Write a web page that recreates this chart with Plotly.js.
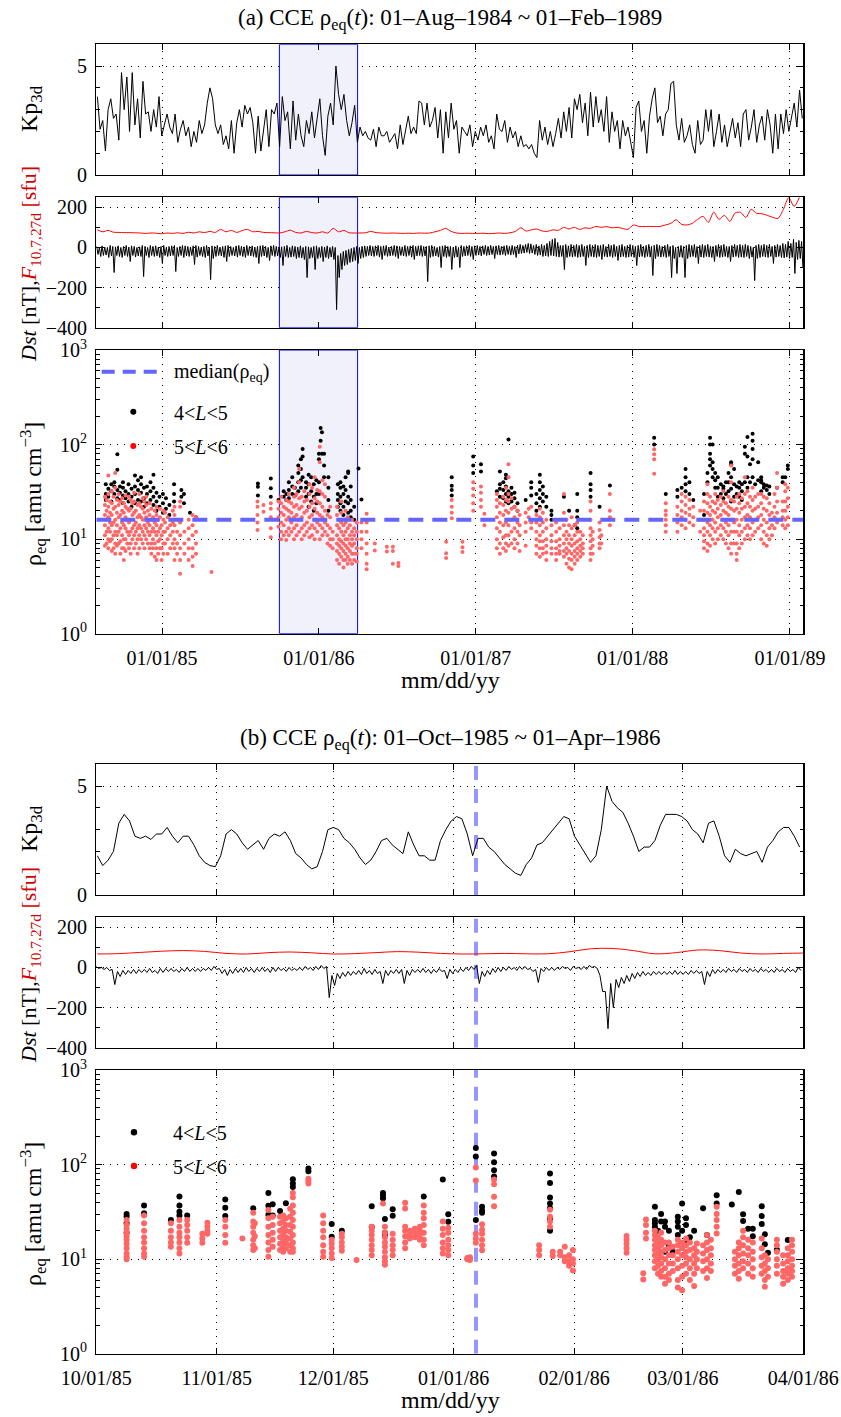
<!DOCTYPE html>
<html><head><meta charset="utf-8">
<script src="https://cdn.plot.ly/plotly-3.0.1.min.js"></script>
<style>html,body{margin:0;padding:0;background:#fff}#chart{width:841px;height:1417px}</style>
</head><body><div id="chart"></div>
<script>
// ---------------- DATA ----------------
const A_START = '1984-08-01', A_END = '1989-02-01';
const B_START = '1985-10-01', B_END = '1986-04-01';
const SHADE_START = '1985-10-01', SHADE_END = '1986-04-01';
const EVENT_TIME = '1986-01-06 18:00';
const MEDIAN_RHO = 16;
const KP_RANGE = [0, 6], DST_RANGE = [-400, 250], RHO_RANGE = [1, 1000];

// Panel (a) Kp3d and Dst (per-bin high/low), sampled every ~6.24 days from day 2.5 after A_START
const kpA_t0 = 2.5, kpA_dt = 6.236;
const kpA = [3.6,2.1,2.5,1.1,3.0,3.5,2.6,2.8,1.6,4.7,3.0,4.5,2.0,4.7,2.3,3.5,1.7,4.3,2.8,2.9,
2.0,3.0,2.2,3.6,1.8,2.3,2.8,2.2,1.9,2.8,1.5,2.1,2.5,1.8,2.2,1.3,2.0,1.5,2.5,1.9,
2.3,3.3,4.0,3.5,2.3,1.9,2.3,1.4,1.8,1.2,2.5,1.0,2.4,3.0,2.2,3.2,2.8,3.1,2.4,1.0,
2.7,1.1,2.2,3.0,1.3,3.0,2.8,3.3,1.3,3.6,2.5,2.9,1.2,3.4,1.6,2.8,1.8,1.3,2.5,1.9,
2.9,1.7,2.6,3.5,1.8,0.9,2.7,3.3,2.3,5.0,3.7,3.0,3.7,2.5,1.8,2.4,3.2,1.5,2.2,1.8,
2.0,1.7,1.6,2.1,1.3,2.2,1.8,1.8,2.0,1.5,1.7,1.9,1.2,2.3,1.4,2.0,2.7,1.9,2.2,1.9,
3.4,3.3,2.3,3.3,2.2,2.5,3.1,1.7,3.0,1.0,2.9,1.7,3.3,2.1,2.5,1.0,2.2,2.0,1.8,2.3,
1.3,2.0,1.6,2.2,1.8,2.3,1.5,1.8,1.2,2.8,2.1,2.0,2.5,1.5,2.2,1.7,2.0,1.3,1.8,1.3,
1.4,1.2,1.4,1.0,0.8,2.5,1.6,2.2,1.4,2.0,1.3,1.9,2.6,1.7,2.9,2.0,3.1,1.7,3.5,3.0,
3.7,2.4,3.3,1.8,3.8,2.2,3.6,2.4,3.0,2.0,3.6,1.5,2.9,2.0,2.5,1.2,2.5,1.8,2.2,1.5,
0.8,3.1,3.4,2.0,2.5,1.0,2.7,3.5,4.0,2.4,2.7,1.8,2.8,3.0,4.2,4.3,2.3,1.6,2.6,1.5,
1.8,2.3,1.4,1.0,2.5,1.4,1.6,3.0,2.0,3.0,1.3,2.0,2.8,1.5,2.3,1.3,2.0,2.6,1.7,2.4,
1.3,2.8,3.0,1.6,2.2,3.0,1.5,2.3,2.7,1.6,3.0,2.3,1.0,2.8,1.2,2.8,1.9,3.0,2.0,2.7,
3.3,2.2,3.9,2.6];
const dstA_hi = [5,0,8,2,0,10,5,3,8,0,5,10,2,8,5,0,3,10,5,0,
10,5,8,2,5,10,0,5,8,10,0,5,10,8,5,2,8,10,5,0,
5,10,0,8,5,10,2,5,8,10,5,0,8,10,5,3,10,5,8,2,
5,8,10,5,0,8,10,5,0,3,5,10,0,8,5,2,8,0,5,3,
0,5,8,0,5,2,8,0,5,0,-40,-30,-20,-15,-10,-5,0,5,0,5,
8,5,10,5,8,10,5,8,10,2,5,10,8,5,3,10,5,8,10,5,
8,10,5,5,8,10,5,0,5,8,10,5,5,0,8,0,10,5,8,10,
5,8,10,5,8,10,5,10,5,8,10,5,8,10,5,10,5,12,15,10,
15,20,18,10,15,8,15,10,20,30,40,45,25,10,10,15,8,15,10,15,
10,15,5,10,15,10,15,10,10,15,5,15,10,15,5,10,15,5,10,15,
10,5,10,15,5,10,15,5,10,15,10,5,10,15,5,10,0,5,10,5,
10,15,10,15,5,10,15,10,15,5,5,10,15,10,15,5,5,10,15,10,
15,10,15,10,5,0,10,15,10,15,10,15,5,10,15,10,20,15,30,20,
40,25,35,30];
const dstA_lo = [-35,-45,-40,-38,-50,-42,-125,-40,-45,-50,-40,-45,-70,-40,-48,-42,-45,-145,-40,-50,
-40,-45,-42,-50,-80,-40,-45,-42,-40,-120,-45,-40,-50,-42,-45,-40,-85,-48,-40,-45,
-50,-42,-160,-55,-45,-40,-42,-50,-70,-45,-40,-42,-48,-40,-45,-50,-40,-42,-45,-50,
-80,-45,-42,-50,-65,-40,-45,-42,-50,-90,-45,-50,-48,-45,-55,-50,-52,-60,-150,-55,
-50,-110,-55,-50,-70,-50,-55,-48,-60,-310,-150,-110,-90,-85,-75,-70,-65,-80,-55,-50,
-45,-40,-42,-45,-40,-48,-60,-40,-45,-42,-40,-45,-55,-40,-42,-45,-40,-48,-60,-42,
-40,-45,-42,-170,-50,-45,-42,-48,-100,-45,-50,-45,-110,-50,-48,-100,-45,-42,-40,-45,
-60,-40,-38,-42,-35,-40,-38,-35,-55,-35,-38,-35,-40,-35,-38,-35,-50,-32,-30,-28,
-25,-30,-28,-35,-40,-38,-45,-42,-45,-40,-42,-45,-48,-45,-110,-50,-45,-48,-45,-50,
-48,-45,-90,-50,-45,-48,-50,-45,-60,-45,-48,-45,-50,-45,-65,-48,-45,-50,-48,-45,
-50,-90,-48,-45,-50,-45,-48,-140,-55,-45,-48,-45,-50,-45,-150,-55,-130,-48,-50,-150,
-55,-48,-45,-50,-80,-48,-50,-45,-48,-50,-70,-45,-50,-48,-45,-50,-70,-48,-45,-50,
-48,-50,-45,-55,-48,-165,-55,-50,-45,-48,-50,-45,-80,-48,-45,-50,-52,-48,-55,-50,
-130,-60,-55,-100];

// Panel (a) F10.7, every ~12.47 days
const fA_t0 = 2.5, fA_dt = 12.47;
const f107A = [88,78,85,76,75,74,74,73,72,70,72,71,68,72,70,73,70,76,72,78,
74,80,75,90,78,85,75,84,90,78,80,75,74,73,72,78,86,75,72,80,
74,72,78,72,95,78,85,73,72,72,73,80,74,72,71,72,71,70,71,70,
72,71,72,78,85,95,80,72,70,71,70,70,71,69,70,72,70,73,80,98,
82,88,92,82,80,88,85,100,92,100,90,98,95,105,100,104,98,100,95,90,
112,105,104,105,104,105,112,120,138,115,112,120,140,155,125,176,140,160,130,172,
175,150,190,170,168,160,150,145,190,248,205,250];

// Panel (a) rho_eq columns (day after A_START) and values
const rhoRedA_day = [20,24,28,32,36,40,44,48,52,56,60,64,68,72,76,80,84,88,92,96,100,104,108,112,116,120,124,128,132,136,140,144,148,152,156,160,166,172,178,182,188,195,205,215,224,232,268,
375,389,406,424,430,436,442,448,454,460,466,472,478,484,490,496,502,508,514,520,526,532,538,544,550,560,565,570,575,580,585,590,595,600,606,617,629,648,676,690,703,
814,827,852,877,895,903,932,939,947,953,959,966,973,980,985,999,1006,1012,1024,1032,1039,1047,1059,1070,1078,1088,1094,1100,1106,1113,1119,1126,1132,1150,1155,1171,1175,1195,
1298,1325,1352,1362,1371,1380,1389,1405,1414,1422,1428,1434,1440,1446,1453,1459,1465,1471,1477,1484,1490,1496,1502,1509,1515,1521,1527,1533,1540,1547,1553,1560,1566,1572,1578,1584,1597,1603,1609];
const rhoRedA_val = [[8.5,11,14,18,23,28],[9,12,16,20,26],[8,10,13,17,22,30,47],[9.5,12,15,19,25],[7.5,10,14,18,24,32],[8,11,15,21,28],[7,9,12,16,22,35,50],[8.5,11,14,19,26],[9,12,17,23,30],[7,9.5,13,18,25],[8,11,15,20,27],[6,8,10,14,19,24],[7.5,10,13,17,22,29],[9,12,16,21],[8,11,15,20,28],[7,9,12,16,21,26],[10,13,18,24],[8,11,14,19,25,31],[9,12,15,20],[7,10,13,17,23],[8,11,14,18,24,30],[10,13,17,22],[9,12,16,21,27],[8,11,14,19,25],[10,13,17,23,28],[9,12,15,20],[8,11,14,18,24],[7,9,12,16,21],[8,10,13,17],[6.5,9,12,15,20],[6,8,11,14,18,22],[7,9.5,12,16],[8,10,13,17,21],[6,8,11,14],[7,9,12,16,20],[9,12,15,19],[7,10,13,17],[8,11,14],[9,12,15,20],[6,8,10,14,18,22],[7,9,12,16],[4.3,6,8,11,15,22,25],[7,9,12],[6,8,10,13,16],[5.2,6.5,8,11,14,18],[7,9,12,17],[4.5],
[12.5,15,18,22,25],[19.5,23],[10.5,13,17,21,24],[13.5,17,21,25],[10,12,15,19,24,28],[11,14,18,22],[9.8,12,16,21,26],[11,13,17,20,25,30],[12,15,19,24],[10,13,17,22,28,35],[11,14,18,23,30],[12,16,21,27,40,55],[10,13,17,22,28],[11,14,19,25,32],[12,15,20,26],[10.5,13,17,22,30,38],[11,14,18,24,35],[10,13,16,21,27,45],[12,15,19,25,33],[10,14,18,24,32,65,95],[11,13,17,22,30,42],[12,15,20,28,38],[9,11,14,18],[8.5,10,13,17,22],[8,10,12],[6,7.5,9,11,14,18,22],[5.5,7,8.5,10,13,16],[6.5,8,9.5,12,15,19,25],[5,6,7.5,9,11,14],[6,7,8.5,10,12,15,20],[5.5,6.5,8,10,13,17],[6,7.5,9,11,14],[5.5,7,8.5,10,12,16],[6,7,9,11,13],[5.8,7,8,10,12,15],[8,10,12,15],[4.8,5.5,7,9,12,15,18.5],[7.6,9],[7.4,8.3],[5.5,7.5,8.3],[5.2,5.6],
[6.3,7.1,9.4],[16.6,19,22,25.9],[7.3,8.2,9.4],[20,24,29,34,40],[22,26,31,36],[14,16,18.5],[8,10,13,17,22,26,30],[7,9,12,15,19,24],[8,10.5,14,18,23,28],[7.5,9,11,15,20,26,35],[8.5,11,14,19,25,30,45,62],[9,12,16,21,27],[8,10,13,17,22],[9,12,15,20],[7.5,11,14,18],[8.5,12,15,19],[17,21],[13,15,22],[7,8.5,10,12,15,18],[6.5,8,9.5,11,14,17,21],[7,8,9.5,12,15,19],[6,7.2,8.5,10,13,16],[7,8,9.5,11,14],[6,7,8,9.5,12,15],[7,7.5,8.5,10,13],[6.5,7.5,9,11,14,19,30],[5.5,7,8,10,12,16],[5,6.2,7.5,9,11,14],[4.8,6,7,8.5,10,13,17],[5.5,6.5,7.5,9,11,14],[6,7,8,9.5,12,15],[6.5,7.5,8.5,10,12],[7,8,9,11],[6,7,8,9.5,11,13,16,20,25],[7,8.5,10,12],[8,9,10.5,12.5,15],[9,11],[14,17,20,30],
[49,70,79,89],[12,14,16,18,20,24],[12,15,18,22],[14,17,20,25,30],[13,16,19,23,28],[15,18,21,26],[14,17,22],[12,16,20],[8,9.5,11,13,16,20,25],[7.5,9,12,15,19,24,30,38],[8.5,11,14,18,22,28],[10,13,16,20,25],[9,12,15,19,24,30],[10,13,17,21,26],[11,14,18,23,28],[10,13,16,20,25,32],[9,12,15,19,24],[8,11,14,18,22,28],[7,9,12,16,21,26,40,60],[9,12,15,20,25],[6,7,9,12,16,21,28],[8,11,14,19,24,30],[9,12,16,21,27],[10,13,17,22,30,45],[11,14,18,24,32],[10,13,17,22,28],[11,15,20,26,35],[12,16,21,28],[13,17,22,30],[10,14,18,24,30],[9,12,16,21,28],[8.5,11,15,20,27],[10,13,18,24],[11,14,19],[13,17,22,30],[15,19,25,35,50],[14,17,20,25],[13,16,20,25,32,38],[14,17,22,27,35]];
const rhoBlackA_day = [22,28,35,42,49,55,62,68,75,82,90,97,104,111,118,126,133,140,147,155,162,170,181,198,204,218,232,
376,406,424,436,442,448,456,462,470,476,480,488,494,500,506,512,518,522,525,530,540,562,568,575,580,586,592,600,610,617,
827,877,895,932,939,947,953,959,966,973,980,999,1012,1024,1032,1039,1047,1059,1088,1100,1113,1119,1150,1171,1195,
1298,1325,1352,1362,1371,1380,1389,1414,1422,1428,1434,1440,1446,1453,1459,1465,1471,1477,1484,1490,1496,1502,1509,1515,1521,1527,1533,1540,1547,1553,1560,1566,1584,1597,1603,1609];
const rhoBlackA_val = [[26,30,38],[28,34],[25,32,38],[30,36,40],[27,33,54,79],[26,31,36],[24,29,35,40],[27,32],[25,30,38],[22,28,34],[24,30,36,47],[26,33,42],[25,31,38,45],[22,27,35],[24,30,36],[26,32,40],[23,28,35,48],[20,25,31],[22,28],[19,24,30],[21,27],[18,23],[25,30,38],[28,33],[24,30],[19],[17],
[29,35.8,38.7],[28,34.5,43.8],[25.9],[28,32],[26,30],[27,33,40],[30,36,45],[29,35],[32,40,50,60],[35,42,55,70],[45,75,90],[28,35,40],[22,30,38,48],[25,32,45],[20,28,38],[24,30,42],[30,40,70,80],[110,150],[80,135],[45,60,80],[20,26,35,45],[22,26,30,38],[20,24,28,35,40],[18,22,30,36],[25,33,45],[19,24,28,50,52],[17,20,26,36],[16,22],[56],[26.3],
[29,33,36.6,45],[50,60,75],[52,62],[32],[28,34,38,52],[27,33,40],[25,30,36,44,48],[24,28,32,113],[25,30,35],[22,27,31],[20,24],[26],[29,35,40],[20,24,30],[22,27,33,40,48],[25,30,36],[22,28],[16,18,20],[28],[20],[14],[13,17,20,30],[28,33,38,50],[22],[37],
[100,118],[30],[28,33],[35],[32,38,45,55],[30,40],[26],[18,30],[40,50],[60,70,80,100,118],[45,55,65,100],[35,42,50],[28,35,45],[30,38],[27,34,36],[30,40],[32,40,50],[25,34,45,62,65],[28,38,55],[30,36],[28,35,40],[26,32,38],[40,80,95],[35,45,75,120],[40,62],[45,70,90,110,130],[38],[42,65],[32,40,42,45],[35,38],[33,37],[30,36],[35],[40,45],[45],[55,60]];

// Panel (b) Kp3d, every ~1.38 days
const kpB_t0 = 0.28, kpB_dt = 1.38;
const kpB = [1.8,1.35,1.6,2.0,3.3,3.7,3.4,2.7,2.6,2.7,2.55,2.8,2.8,3.1,2.7,2.4,2.7,2.7,2.3,1.8,
1.5,1.35,1.3,1.8,2.8,3.0,2.8,2.4,2.1,2.3,2.5,2.1,2.6,2.8,2.7,2.9,2.5,1.9,1.7,1.4,
1.2,1.3,2.0,3.0,3.1,3.0,2.6,2.4,2.1,1.7,1.4,1.6,2.0,2.5,2.6,2.3,2.1,1.9,2.9,2.3,
1.8,1.8,1.6,1.6,2.5,3.0,3.4,3.6,3.5,2.8,1.8,2.6,2.6,2.2,2.0,1.7,1.4,1.2,1.0,0.9,
1.4,1.7,2.3,2.4,2.7,3.0,3.3,3.6,3.5,2.7,2.3,1.9,1.5,1.8,3.0,5.0,4.3,4.0,3.8,3.3,
2.7,2.0,2.2,2.2,2.5,3.2,3.7,3.7,3.7,3.6,3.4,3.0,2.8,2.4,3.3,3.4,2.7,1.8,1.5,2.1,
1.9,1.8,1.9,2.0,1.5,2.2,2.5,2.9,3.1,3.1,2.7,2.2];
// Panel (b) Dst per-bin high/low, same bins as kpB
const dstB_hi = [5,0,0,-10,-20,-15,-15,-10,-10,-10,-5,-15,-5,-5,-5,-10,-5,0,-5,-5,
-5,0,5,-5,-10,-10,-5,-5,0,-5,-5,0,-5,0,0,-5,0,-5,0,5,
0,5,10,5,-40,-30,-25,-20,-20,-15,-5,-15,-10,-20,-15,-15,-10,-10,-15,-10,
-10,-5,-10,-10,-5,-15,-10,-10,-5,0,5,10,-20,-15,-5,0,0,5,0,5,
5,-5,-10,-5,0,0,0,5,0,5,0,5,10,5,-40,-120,-80,-60,-50,-40,
-30,-25,-20,-25,-20,-20,-20,-20,-15,-20,-20,-15,-15,-20,-20,-10,-10,-10,-5,-10,
-5,-10,-5,-10,-5,-10,-10,-5,-10,-5,-10,0];
const dstB_lo = [-5,-10,-15,-85,-45,-35,-30,-30,-25,-25,-25,-30,-25,-20,-20,-25,-20,-20,-20,-20,
-15,-15,-10,-30,-40,-30,-25,-25,-20,-25,-20,-20,-25,-20,-15,-20,-15,-15,-15,-10,
-15,-10,-5,-150,-90,-55,-45,-40,-35,-35,-30,-35,-30,-80,-40,-30,-30,-80,-40,-25,
-25,-25,-30,-25,-20,-55,-30,-25,-20,-15,-10,-80,-45,-35,-25,-20,-15,-10,-15,-10,
-10,-20,-75,-20,-15,-15,-10,-5,-15,-5,-10,-10,0,-5,-120,-305,-200,-100,-80,-70,
-55,-45,-40,-40,-35,-35,-35,-35,-35,-35,-35,-30,-30,-85,-45,-30,-25,-25,-20,-25,
-20,-25,-20,-25,-20,-25,-25,-20,-25,-20,-25,-15];
// Panel (b) F10.7, every ~5.52 days
const fB_t0 = 0.28, fB_dt = 5.52;
const f107B = [67,69,75,81,84,80,70,67,74,77,73,67,69,74,79,76,70,67,68,70,68,68,78,93,95,84,68,74,87,84,72,67,70,72];

// Panel (b) rho_eq columns (day after B_START)
const rhoRedB_day = [7.8,12.3,19.2,21.4,23.4,27.3,28.6,33.2,37.6,40.4,40.8,44.3,45.4,47.3,48.1,48.8,49.9,50.6,54.6,58.4,60.6,63.2,67,70.9,73.8,74.3,76.3,79.5,80.7,82,83.3,84.3,89.2,90.6,95.5,96.2,97.7,99.3,102.4,114,116.8,117.5,119.4,120.6,121.7,122.7,136.5,140.8,141.5,143.8,144.6,145.4,146.4,147.4,148.4,149.7,150.8,151.8,152.8,153.9,154.6,156.2,157.2,158.2,159.7,164.4,165.4,166.5,167.8,169,171.3,172.1,172.9,175.2,176.8,178,179.1];
const rhoRedB_val = [[10,10.6,11.5,13,14.5,16,17.5,19,21,23,25.9],[10.6,11.5,13,15,17,20,24,29],[13.5,15,17,20,24],[11.5,13,15,17,19,22,26],[14.9,17,20,23,26],[14.9,16.5,18.6],[18.6,20,22,24.2],[14.9,18,22,26],[16.5],[12.5,14,16,19,22,25,31],[13,17.5,24],[10.6,12.5,15,18,22,27,33],[13.5,16,19,23,28],[12.5,14.5,17,20,24,28],[12,13.5,15.5,18,21,25,29],[13,15,17,20,23,27],[12,14,16.5,19.5,23,28,34],[12,13,15,18,22,26,31,37,45,50],[63,67,71],[10.6,12,14,17,20,24,29],[10.3,11.5,13,14.5,16],[12.3,13.5,15,17,18.6],[9.8],[11,12.5,14,16,18,20,22],[38.8],[8.7,9.5,10.5,12,13.5,15,17,19,22],[11,12.5,14,16,18.6],[13,15,17.5,20,22,34.3,39.4],[16.5,18,20],[17,19,21],[16,18,20,22],[14,16,19,23,27,31,37],[11.5,13,15,18,21,25],[11,12.5,14,16,19,21.5],[10,10.3],[9.8,10.5],[14.9,16.5,18.6,68,93],[12.4,14,16,18.5,20.5,23.4],[36.3,45.7,62,69.6],[11,12.5,14],[22,25,28,33.3],[10.8,12],[11,12],[9.5,10.5,13.5],[8.5,9.5,11],[7.6,9,10,12.5],[11.7,13,14.5,16,17.6],[6.1,7.1],[16.5,19,23,26.3],[8,9.5,11,12.5,14,16,18,20],[7,8.5,10,11.5,13,15,17],[6.5,7.5,9,10.5,12,14,16,19],[5.5,6.5,8,10,12.5,15],[6,7,9,11,13,15],[7.5,9,11,13.5],[5,6,8,10,12,14,16],[4.7,6.5,8.5,11,13,15],[7,9,10.5,12,14,16.5],[6,8,10,12.5,15],[5.2,7,9,11,13],[8,10,12,14.6],[7.5,9.5,11.5,14],[6.3,8,10,12.5,15,18],[7.5,9,11,13,16],[18.7,22,26,30,35.8],[7,8.5,10,12],[6.2,7.5,9,11,13,15],[8,9.5,11.5,14,17,20],[7,9,11,13,16],[6.5,8,10,12,15],[7,8.5,10.5,13,16.5],[5.1,6,7.5,9,11],[6.5,8,10],[7,8.5,10,12,14,16],[5.5,6.5,7.5,9,11],[6,7,8,9.5,11,13],[6.5,7.5,8.5,10,12,14,16]];
const rhoBlackB_day = [7.8,12.3,19.2,21.4,23.4,33.2,40.4,44.3,45.4,47.3,48.8,50.6,54.6,60.6,63.2,70.9,73.8,74.3,76.3,84.3,89.2,90.6,97.7,99.3,102.4,116.8,143.8,144.6,145.4,146.4,147.4,148.4,149.7,150.8,151.8,152.8,153.9,156.2,157.2,159.7,163.6,165.4,166.5,167.8,169,171.3,172.1,172.9,175.2,178];
const rhoBlackB_val = [[19,24,28,30],[30.5,37],[25.9],[29,31.7,37,46],[29],[28.5,35,42.7],[34.5],[29.5,36.6,50],[29,38],[32.3],[39],[58,63,70],[85,91],[17.2,23.5],[19.9],[21.9,36.3],[44,47,50],[18,19,26.5],[28.8,33.6],[46],[69.6],[24.9,29.8],[25.9,122,150],[31,32.6,35.8],[75,87,106,131],[19.9,26.9,34.5,38.8,44.8,63.8,80.6],[22,24,26,35.8],[20],[25,30],[12,22,25],[14,20],[12],[18,22,25,28],[20,38.8],[15,23,27],[17],[20],[34.5],[18],[38.8,47.3],[37.9],[51.4],[25.3,29.8],[21],[17.5,21],[23.5,28.5,36.3],[14.4,18.3],[11.7],[12.6],[15.9]];

// ---------------- HELPERS ----------------
const W = 841, H = 1417;
const px = v => v / W, py = v => 1 - v / H;
const DAYMS = 86400000;
function dt(start, d) {
  const t = new Date(Date.parse(start.replace(' ', 'T') + (start.length > 10 ? ':00Z' : 'T00:00:00Z')) + d * DAYMS);
  return t.toISOString().replace('T', ' ').slice(0, 19);
}
const FONT = 'Liberation Serif, Times New Roman, serif';
const RED_PT = '#ff6666', MED_COLOR = 'rgb(100,100,255)', EVENT_COLOR = 'rgb(150,150,255)';

function series(vals, start, t0, step) { return vals.map((v, i) => dt(start, t0 + i * step)); }
function band(hi, lo, start, t0, step, xa, ya) {
  const x = [], y = [];
  hi.forEach((h, i) => {
    const c = t0 + i * step;
    x.push(dt(start, c - step / 4)); y.push(h);
    x.push(dt(start, c + step / 4)); y.push(lo[i]);
  });
  return {type: 'scatter', mode: 'lines', x, y, xaxis: xa, yaxis: ya, line: {color: '#000', width: 1}, hoverinfo: 'skip'};
}
function cols(days, vals, start, xa, ya, color, size) {
  const x = [], y = [];
  days.forEach((d, i) => vals[i].forEach(v => { x.push(dt(start, d)); y.push(v); }));
  return {type: 'scatter', mode: 'markers', x, y, xaxis: xa, yaxis: ya, marker: {color, size, line: {width: 0}}, hoverinfo: 'skip'};
}
function shade(xa, ya, r) {
  return {type: 'scatter', mode: 'lines', x: [SHADE_START, SHADE_START, SHADE_END, SHADE_END, SHADE_START], y: [r[0], r[1], r[1], r[0], r[0]],
    xaxis: xa, yaxis: ya, fill: 'toself', fillcolor: 'rgb(241,241,252)', line: {color: '#0000ff', width: 1}, hoverinfo: 'skip'};
}
function eventLine(xa, ya, r) {
  return {type: 'scatter', mode: 'lines', x: [EVENT_TIME, EVENT_TIME], y: r, xaxis: xa, yaxis: ya,
    line: {color: EVENT_COLOR, width: 4, dash: '14px,9px'}, hoverinfo: 'skip'};
}

const traces = [
  shade('x', 'y', KP_RANGE), shade('x2', 'y2', DST_RANGE), shade('x3', 'y3', RHO_RANGE),
  {type: 'scatter', mode: 'lines', x: series(kpA, A_START, kpA_t0, kpA_dt), y: kpA, xaxis: 'x', yaxis: 'y', line: {color: '#000', width: 1}, hoverinfo: 'skip'},
  band(dstA_hi, dstA_lo, A_START, kpA_t0, kpA_dt, 'x2', 'y2'),
  {type: 'scatter', mode: 'lines', x: series(f107A, A_START, fA_t0, fA_dt), y: f107A, xaxis: 'x2', yaxis: 'y2', line: {color: '#ff0000', width: 1, shape: 'spline', smoothing: 0.8}, hoverinfo: 'skip'},
  cols(rhoBlackA_day, rhoBlackA_val, A_START, 'x3', 'y3', '#000', 4),
  cols(rhoRedA_day, rhoRedA_val, A_START, 'x3', 'y3', RED_PT, 4),
  {type: 'scatter', mode: 'lines', x: [A_START, A_END], y: [MEDIAN_RHO, MEDIAN_RHO], xaxis: 'x3', yaxis: 'y3', line: {color: MED_COLOR, width: 4, dash: '15px,9px'}, hoverinfo: 'skip'},
  eventLine('x4', 'y4', KP_RANGE), eventLine('x5', 'y5', DST_RANGE), eventLine('x6', 'y6', RHO_RANGE),
  {type: 'scatter', mode: 'lines', x: series(kpB, B_START, kpB_t0, kpB_dt), y: kpB, xaxis: 'x4', yaxis: 'y4', line: {color: '#000', width: 1}, hoverinfo: 'skip'},
  band(dstB_hi, dstB_lo, B_START, kpB_t0, kpB_dt, 'x5', 'y5'),
  {type: 'scatter', mode: 'lines', x: series(f107B, B_START, fB_t0, fB_dt), y: f107B, xaxis: 'x5', yaxis: 'y5', line: {color: '#ff0000', width: 1, shape: 'spline', smoothing: 1}, hoverinfo: 'skip'},
  cols(rhoBlackB_day, rhoBlackB_val, B_START, 'x6', 'y6', '#000', 6),
  cols(rhoRedB_day, rhoRedB_val, B_START, 'x6', 'y6', RED_PT, 6)
];

// ---------------- LAYOUT ----------------
const XDOM = [px(96.3), px(803.3)];
const tickFont = {family: FONT, size: 20, color: '#000'};
function xax(domain, range, dtick, tick0, anchor, showlabels) {
  return {domain, range, type: 'date', dtick, tick0, tickformat: '%m/%d/%y', showticklabels: showlabels,
    ticks: 'inside', ticklen: 6, tickcolor: '#000', tickwidth: 1, showline: true, linecolor: '#000', linewidth: 1.2, mirror: 'ticks',
    showgrid: true, gridcolor: '#000', griddash: '1px,6px', gridwidth: 1, anchor, zeroline: false, tickfont: tickFont, ticklabelstandoff: 6, fixedrange: true};
}
function yax(domain, range, tickvals, ticktext, minor, anchor, type) {
  const o = {domain, range, tickvals, ticktext, ticks: 'inside', ticklen: 6, tickcolor: '#000', tickwidth: 1, showline: true, linecolor: '#000', linewidth: 1.2, mirror: 'ticks',
    showgrid: true, gridcolor: '#000', griddash: '1px,6px', gridwidth: 1, anchor, zeroline: false, tickfont: tickFont, ticklabelstandoff: 4,
    minor: Object.assign({ticks: 'inside', ticklen: 3.5, tickcolor: '#000', showgrid: false}, minor), fixedrange: true};
  if (type) o.type = type;
  return o;
}
const logMinor = [];
[1, 10, 100].forEach(d => { for (let k = 2; k <= 9; k++) logMinor.push(k * d); });
const logTicks = [1, 10, 100, 1000], logText = ['10<sup>0</sup>', '10<sup>1</sup>', '10<sup>2</sup>', '10<sup>3</sup>'];
const logRange = [Math.log10(RHO_RANGE[0]), Math.log10(RHO_RANGE[1])];

const dA1 = [py(175), py(44.3)], dA2 = [py(327.7), py(197.3)], dA3 = [py(633.7), py(350)];
const dB1 = [py(895), py(764.3)], dB2 = [py(1047.7), py(917.3)], dB3 = [py(1353.7), py(1070)];
const dstTicks = [-400, -200, 0, 200], dstText = ['\u2212400', '\u2212200', '0', '200'];

const layout = {
  width: W, height: H, margin: {l: 0, r: 0, t: 0, b: 0}, showlegend: false, hovermode: false,
  paper_bgcolor: '#fff', plot_bgcolor: '#fff', font: {family: FONT, color: '#000'},
  xaxis: xax(XDOM, [A_START, A_END], 'M12', '1985-01-01', 'y', false),
  xaxis2: xax(XDOM, [A_START, A_END], 'M12', '1985-01-01', 'y2', false),
  xaxis3: xax(XDOM, [A_START, A_END], 'M12', '1985-01-01', 'y3', true),
  xaxis4: xax(XDOM, [B_START, B_END], 'M1', '1985-10-01', 'y4', false),
  xaxis5: xax(XDOM, [B_START, B_END], 'M1', '1985-10-01', 'y5', false),
  xaxis6: xax(XDOM, [B_START, B_END], 'M1', '1985-10-01', 'y6', true),
  yaxis: yax(dA1, KP_RANGE, [0, 5], ['0', '5'], {dtick: 1, tick0: 0}, 'x'),
  yaxis2: yax(dA2, DST_RANGE, dstTicks, dstText, {dtick: 100, tick0: 0}, 'x2'),
  yaxis3: yax(dA3, logRange, logTicks, logText, {tickvals: logMinor}, 'x3', 'log'),
  yaxis4: yax(dB1, KP_RANGE, [0, 5], ['0', '5'], {dtick: 1, tick0: 0}, 'x4'),
  yaxis5: yax(dB2, DST_RANGE, dstTicks, dstText, {dtick: 100, tick0: 0}, 'x5'),
  yaxis6: yax(dB3, logRange, logTicks, logText, {tickvals: logMinor}, 'x6', 'log'),
  shapes: [],
  annotations: []
};

// manual legends
function dot(cx, cy, color, r) {
  return {type: 'circle', xref: 'paper', yref: 'paper', x0: px(cx - r), x1: px(cx + r), y0: py(cy + r), y1: py(cy - r),
    fillcolor: color, line: {width: 0}};
}
layout.shapes.push({type: 'line', xref: 'paper', yref: 'paper', x0: px(101.7), x1: px(161.7), y0: py(371.7), y1: py(371.7),
  line: {color: MED_COLOR, width: 4, dash: '13px,8px'}});
layout.shapes.push(dot(133.3, 411.7, '#000', 3), dot(133.3, 446, '#ff0000', 3));
layout.shapes.push(dot(134, 1132.3, '#000', 3.2), dot(134, 1166, '#ff0000', 3.2));

function ann(x, y, text, size, opts) {
  return Object.assign({xref: 'paper', yref: 'paper', x: px(x), y: py(y), text, showarrow: false,
    font: {family: FONT, size, color: '#000'}, xanchor: 'center', yanchor: 'middle'}, opts || {});
}
const dstLabel = '<i>Dst</i> [nT],<span style="color:#d00000"><i>F</i><sub>10.7,27d</sub> [sfu]</span>';
const rhoLabel = '\u03c1<sub>eq</sub> [amu cm<sup>\u22123</sup>]';
layout.annotations.push(
  ann(450, 19, '(a) CCE \u03c1<sub>eq</sub>(<i>t</i>): 01\u2013Aug\u20131984 ~ 01\u2013Feb\u20131989', 23),
  ann(450, 739, '(b) CCE \u03c1<sub>eq</sub>(<i>t</i>): 01\u2013Oct\u20131985 ~ 01\u2013Apr\u20131986', 23),
  ann(31, 108, 'Kp<sub>3d</sub>', 24, {textangle: -90}),
  ann(31, 828, 'Kp<sub>3d</sub>', 24, {textangle: -90}),
  ann(30, 264, dstLabel, 22, {textangle: -90}),
  ann(30, 965, dstLabel, 22, {textangle: -90}),
  ann(33, 494, rhoLabel, 24, {textangle: -90}),
  ann(33, 1214, rhoLabel, 24, {textangle: -90}),
  ann(450, 680, 'mm/dd/yy', 24),
  ann(450, 1400, 'mm/dd/yy', 24),
  ann(171.7, 372, 'median(\u03c1<sub>eq</sub>)', 20, {xanchor: 'left'}),
  ann(171.7, 413, '4&lt;<i>L</i>&lt;5', 20, {xanchor: 'left'}),
  ann(171.7, 447, '5&lt;<i>L</i>&lt;6', 20, {xanchor: 'left'}),
  ann(171, 1133, '4&lt;<i>L</i>&lt;5', 20, {xanchor: 'left'}),
  ann(171, 1167, '5&lt;<i>L</i>&lt;6', 20, {xanchor: 'left'})
);

Plotly.newPlot('chart', traces, layout, {staticPlot: true, displayModeBar: false});
</script></body></html>
